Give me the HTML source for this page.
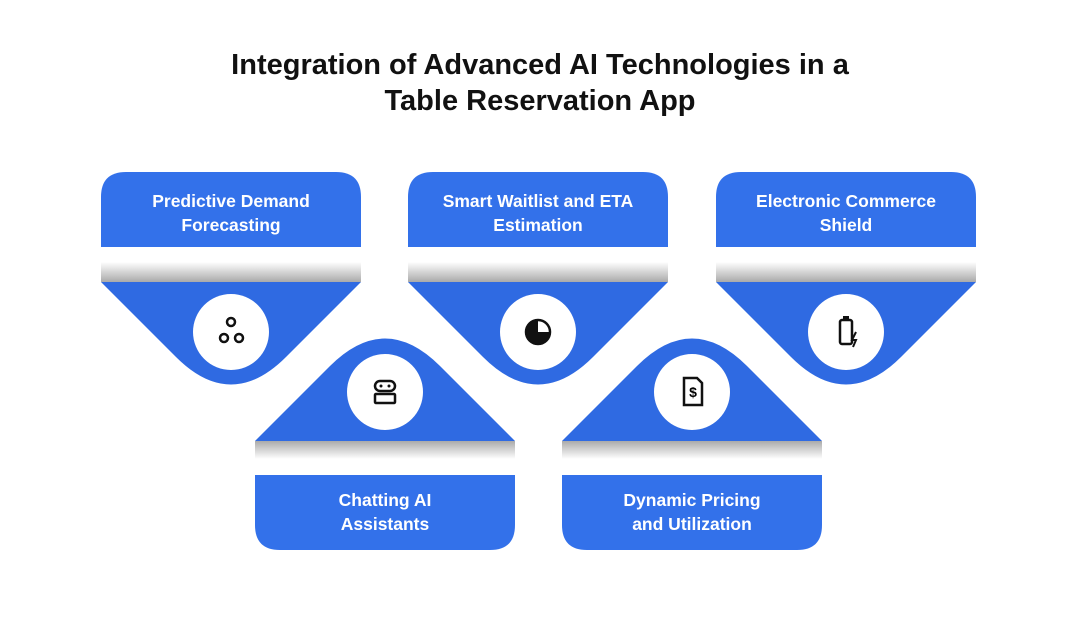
<!DOCTYPE html>
<html><head><meta charset="utf-8"><style>
body{margin:0;width:1080px;height:617px;background:#fff;font-family:"Liberation Sans",sans-serif;overflow:hidden}
.t{position:absolute;left:0;width:1080px;text-align:center;font-weight:bold;font-size:29px;color:#111;line-height:36px;top:47px}
.lbl{position:absolute;width:260px;text-align:center;color:#fff;font-weight:bold;font-size:17.5px;line-height:24px}
</style></head><body>
<div class="t">Integration of Advanced AI Technologies in a<br>Table Reservation App</div>
<svg width="1080" height="617" style="position:absolute;left:0;top:0">
<defs>
<linearGradient id="gd" x1="0" y1="0" x2="0" y2="1"><stop offset="0" stop-color="#fff"/><stop offset="1" stop-color="#aaa"/></linearGradient>
<linearGradient id="gu" x1="0" y1="0" x2="0" y2="1"><stop offset="0" stop-color="#aaa"/><stop offset="1" stop-color="#fff"/></linearGradient>
<g id="top">
<path d="M0,247 V197 Q0,172 25,172 H235 Q260,172 260,197 V247 Z" fill="#3371ea"/>
<rect x="0" y="262" width="260" height="20" fill="url(#gd)"/>
<path d="M0,282 H260 L185,357 Q130,412 75,357 Z" fill="#2f6ae2"/>
<circle cx="130" cy="332" r="38" fill="#fff"/>
</g>
<g id="bot">
<path d="M0,441 H260 L185,366 Q130,311 75,366 Z" fill="#2f6ae2"/>
<rect x="0" y="441" width="260" height="18" fill="url(#gu)"/>
<path d="M0,475 H260 V525 Q260,550 235,550 H25 Q0,550 0,525 Z" fill="#3371ea"/>
<circle cx="130" cy="392" r="38" fill="#fff"/>
</g>
</defs>
<use href="#top" x="101"/><use href="#top" x="408"/><use href="#top" x="716"/>
<use href="#bot" x="255"/><use href="#bot" x="562"/>
<g fill="none" stroke="#111" stroke-width="2.5">
<circle cx="231" cy="322" r="4"/><circle cx="224" cy="338" r="4"/><circle cx="239" cy="338" r="4"/>
<circle cx="538" cy="332" r="12"/>
<rect x="840" y="320" width="12" height="24" rx="2"/>
<rect x="375" y="381" width="20" height="10" rx="5"/><rect x="375" y="394" width="20" height="9" rx="1"/>
<path d="M684,378 H697 L702,383 V405 H684 Z"/>
</g>
<path d="M538,332 V320 A12,12 0 1 0 550,332 Z" fill="#111"/>
<rect x="843" y="316" width="6" height="4" fill="#111"/>
<path d="M856,332 L852,340 H856 L853,347" stroke="#111" stroke-width="2" fill="none"/>
<text x="693" y="397" font-size="14" font-weight="bold" text-anchor="middle" font-family="Liberation Sans">$</text>
<circle cx="381" cy="386" r="1.5" fill="#111"/><circle cx="389" cy="386" r="1.5" fill="#111"/>
</svg>
<div class="lbl" style="left:101px;top:189px">Predictive Demand<br>Forecasting</div>
<div class="lbl" style="left:408px;top:189px">Smart Waitlist and ETA<br>Estimation</div>
<div class="lbl" style="left:716px;top:189px">Electronic Commerce<br>Shield</div>
<div class="lbl" style="left:255px;top:488px">Chatting AI<br>Assistants</div>
<div class="lbl" style="left:562px;top:488px">Dynamic Pricing<br>and Utilization</div>
</body></html>
